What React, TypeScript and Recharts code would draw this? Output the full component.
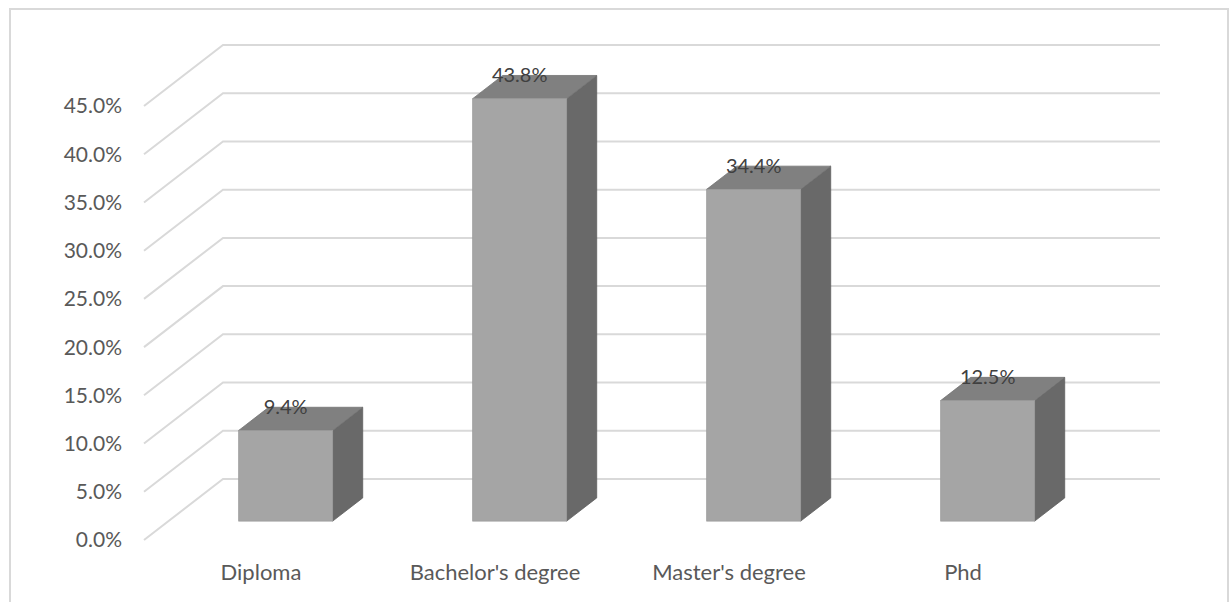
import React from "react";
import { BarChart, Bar, XAxis, YAxis, CartesianGrid } from "recharts";

// chart values
const categories = ["Diploma", "Bachelor's degree", "Master's degree", "Phd"];
const shares = [0.094, 0.438, 0.344, 0.125];
const yTicks = [0, 0.05, 0.1, 0.15, 0.2, 0.25, 0.3, 0.35, 0.4, 0.45];

const data = categories.map((name, i) => ({ name, value: shares[i] }));

// fake 3D: floor depth offset, and where the bar sits in that depth
const DEPTH_X = 79;
const DEPTH_Y = 61;
const BAR_FRONT = 0.31;
const BAR_DEPTH = 0.38;

const FONT = "Lato, 'Liberation Sans', sans-serif";
const fmt = (v: number) => `${(v * 100).toFixed(1)}%`;

const gridLine = (props: any) => {
  const { x1, x2, y1, index } = props;
  const d = `M${x1},${y1} L${x1 + DEPTH_X},${y1 - DEPTH_Y} L${x2 + DEPTH_X + 1},${y1 - DEPTH_Y}`;
  return <path key={`grid-${index}`} d={d} fill="none" stroke="#d9d9d9" strokeWidth={2} />;
};

const Box = (props: any) => {
  const { x, y, width, height, value } = props;
  const fx = x + BAR_FRONT * DEPTH_X;
  const fy = y - BAR_FRONT * DEPTH_Y;
  const dx = BAR_DEPTH * DEPTH_X;
  const dy = BAR_DEPTH * DEPTH_Y;
  const v = Array.isArray(value) ? value[1] : value;
  return (
    <g>
      {/* side */}
      <path
        d={`M${fx + width},${fy} L${fx + width + dx},${fy - dy} L${fx + width + dx},${fy + height - dy} L${fx + width},${fy + height} Z`}
        fill="#696969"
        stroke="#5e5e5e"
        strokeWidth={0.8}
      />
      {/* top */}
      <path
        d={`M${fx},${fy} L${fx + dx},${fy - dy} L${fx + width + dx},${fy - dy} L${fx + width},${fy} Z`}
        fill="#808080"
        stroke="#747474"
        strokeWidth={0.8}
      />
      {/* front */}
      <rect x={fx} y={fy} width={width} height={height} fill="#a5a5a5" stroke="#9a9a9a" strokeWidth={0.8} />
      <text
        x={fx + width / 2}
        y={fy - dy}
        dy="0.35em"
        textAnchor="middle"
        fill="#404040"
        fontSize={20}
        fontFamily={FONT}
      >
        {fmt(v)}
      </text>
    </g>
  );
};

export default function App() {
  return (
    <div
      style={{
        position: "absolute",
        left: 0,
        top: 0,
        width: 1230,
        height: 602,
        overflow: "hidden",
        background: "#fff",
      }}
    >
      <BarChart
        width={1230}
        height={602}
        data={data}
        margin={{ top: 106, right: 150, bottom: 22, left: 84 }}
        barCategoryGap="30%"
      >
        <CartesianGrid vertical={false} horizontal={gridLine} />
        <XAxis
          dataKey="name"
          axisLine={false}
          tickLine={false}
          interval={0}
          height={40}
          tickMargin={18}
          tick={{ fill: "#595959", fontSize: 22, fontFamily: FONT }}
        />
        <YAxis
          type="number"
          domain={[0, 0.45]}
          ticks={yTicks}
          interval={0}
          width={60}
          axisLine={false}
          tickLine={false}
          tickMargin={16}
          tickFormatter={fmt}
          tick={{ fill: "#595959", fontSize: 21, fontFamily: FONT }}
        />
        <Bar dataKey="value" shape={Box} isAnimationActive={false} />
      </BarChart>
      <div
        style={{
          position: "absolute",
          left: 9,
          top: 8,
          width: 1220,
          height: 700,
          border: "2px solid #d9d9d9",
          boxSizing: "border-box",
          pointerEvents: "none",
        }}
      />
    </div>
  );
}
